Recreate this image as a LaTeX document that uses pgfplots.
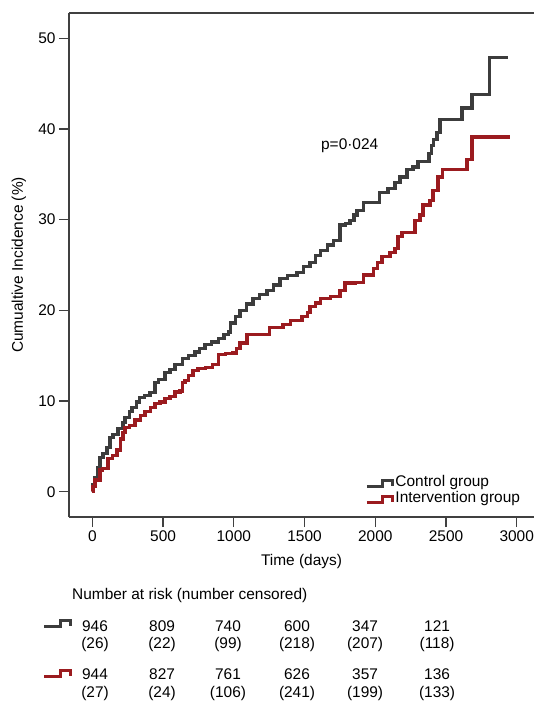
\documentclass[border=0pt]{standalone}
\usepackage{fontspec}
\setmainfont{Liberation Sans}
\usepackage{pgfplots}
\pgfplotsset{compat=1.18}
\usetikzlibrary{calc}

\definecolor{ctrl}{HTML}{3C3C3C}
\definecolor{intv}{HTML}{9B1B1F}
\definecolor{axcol}{HTML}{404040}
\newcommand\fs{\fontsize{15.5}{18}\selectfont}

% little step symbol used in legend and risk table
\newcommand\stepsym[2]{%
  \draw[#1, line width=3.2bp, line join=miter]
    ($(#2)+(-48bp,-3bp)$) -- ++(16bp,0bp) -- ++(0bp,6bp) -- ++(10bp,0bp) -- ++(0bp,-5.5bp);}

\begin{document}
\begin{tikzpicture}
\begin{axis}[
  name=ax,
  scale only axis,
  width=465bp, height=504bp,
  xmin=-165, xmax=3122,
  ymin=-2.79, ymax=52.78,
  axis lines=left,
  axis line style={-, draw=axcol, line width=1.2bp},
  tick style={draw=axcol, line width=1.2bp},
  tick align=outside,
  major tick length=10bp,
  xtick={0,500,...,3000},
  ytick={0,10,...,50},
  tick label style={font=\fs},
  /pgf/number format/assume math mode=true,
  /pgf/number format/1000 sep={},
  every axis x label/.style={at={(rel axis cs:0.5,0)}, anchor=center, yshift=-45bp, font=\fs},
  every axis y label/.style={at={(rel axis cs:0,0.5)}, anchor=center, rotate=90, yshift=50bp, font=\fs},
  xlabel={Time (days)},
  ylabel={Cumualtive Incidence (\%)},
  clip=false,
  legend style={draw=none, fill=none, at={(axis cs:1928,-1.7)}, anchor=south west,
    inner sep=0pt, font=\fs, row sep=1bp,
    nodes={inner xsep=1bp, inner ysep=0pt, text height=11bp, text depth=4bp}},
  legend cell align=left,
  legend image code/.code={%
    \draw[#1, line width=3.2bp] (0bp,-3bp) -- (16bp,-3bp) -- (16bp,3bp) -- (26bp,3bp) -- (26bp,-2.5bp);},
]
\draw[axcol, line width=1.2bp] (rel axis cs:0,1) -- (rel axis cs:1,1);

\addplot[const plot, ctrl, line width=3.2bp] coordinates {
 (0,0) (5,0.8) (19,1.6) (40,2.7) (54,3.8) (76,4.2) (104,4.9) (125,6.0) (146,6.3)
 (182,7.0) (217,7.6) (231,8.2) (260,8.8) (281,9.3) (310,9.9) (336,10.4) (370,10.6)
 (407,10.9) (443,12.0) (470,12.4) (513,13.1) (549,13.5) (584,14.0) (640,14.7)
 (680,15.0) (725,15.4) (760,15.8) (796,16.2) (840,16.5) (889,16.9) (930,17.3)
 (960,17.6) (974,18.6) (1010,19.3) (1044,20.0) (1090,20.7) (1136,21.3) (1180,21.7)
 (1235,22.2) (1280,22.8) (1327,23.5) (1380,23.8) (1447,24.2) (1490,24.8) (1539,25.3)
 (1575,26.0) (1610,26.6) (1660,27.2) (1702,27.7) (1751,29.4) (1790,29.6) (1822,29.9)
 (1850,30.5) (1871,31.0) (1914,31.9) (2030,33.0) (2090,33.4) (2140,34.1) (2175,34.7)
 (2224,35.5) (2267,35.8) (2302,36.4) (2380,37.3) (2395,38.2) (2410,38.8) (2436,39.6)
 (2457,41.0) (2613,42.3) (2683,43.8) (2810,47.9) (2940,47.9)};
\addlegendentry{Control group}

\addplot[const plot, intv, line width=3.2bp] coordinates {
 (0,0) (5,0.6) (19,1.3) (54,2.4) (69,2.6) (111,3.7) (140,4.0) (175,4.6) (200,5.8)
 (217,6.5) (231,7.1) (260,7.3) (302,7.9) (340,8.4) (372,8.8) (410,9.3) (443,9.7)
 (478,9.9) (513,10.3) (549,10.5) (584,11.0) (620,11.1) (640,12.0) (655,12.3)
 (680,12.8) (711,13.4) (747,13.6) (800,13.7) (847,14.0) (889,15.1) (940,15.2)
 (988,15.3) (1020,15.8) (1044,16.4) (1093,17.3) (1250,18.1) (1348,18.4) (1398,18.9)
 (1482,19.3) (1520,19.8) (1539,20.4) (1580,20.8) (1610,21.3) (1681,21.5) (1751,22.2)
 (1786,23.0) (1857,23.1) (1914,23.9) (1985,24.6) (2013,25.3) (2048,25.9) (2104,26.4)
 (2140,26.8) (2161,28.1) (2189,28.6) (2281,29.9) (2316,30.5) (2338,31.6) (2387,32.1)
 (2408,33.2) (2443,34.7) (2478,35.5) (2648,36.6) (2683,39.1) (2951,39.1)};
\addlegendentry{Intervention group}

\node[anchor=west, font=\fs, inner sep=0pt] at (axis cs:1616,38.2) {p=0·024};

% number at risk table
\node[anchor=west, font=\fs, inner sep=0pt] at (axis cs:-144,-11.39) {Number at risk (number censored)};
\foreach \x/\a/\b/\c/\d in {19/946/(26)/944/(27), 493/809/(22)/827/(24), 959/740/(99)/761/(106),
    1447/600/(218)/626/(241), 1928/347/(207)/357/(199), 2437/121/(118)/136/(133)} {
  \edef\temp{%
    \noexpand\node[font=\noexpand\fs, inner sep=0pt] at (axis cs:\x,-14.81) {\a};
    \noexpand\node[font=\noexpand\fs, inner sep=0pt] at (axis cs:\x,-16.90) {\b};
    \noexpand\node[font=\noexpand\fs, inner sep=0pt] at (axis cs:\x,-20.10) {\c};
    \noexpand\node[font=\noexpand\fs, inner sep=0pt] at (axis cs:\x,-22.20) {\d};}
  \temp
}
\coordinate (s1) at (axis cs:0,-14.55);
\coordinate (s2) at (axis cs:0,-20.07);
\end{axis}
\stepsym{ctrl}{s1}
\stepsym{intv}{s2}
\pgfresetboundingbox
\path ($(ax.north west)+(-69bp,13bp)$) rectangle ($(ax.north west)+(465bp,-689bp)$);
\end{tikzpicture}
\end{document}
